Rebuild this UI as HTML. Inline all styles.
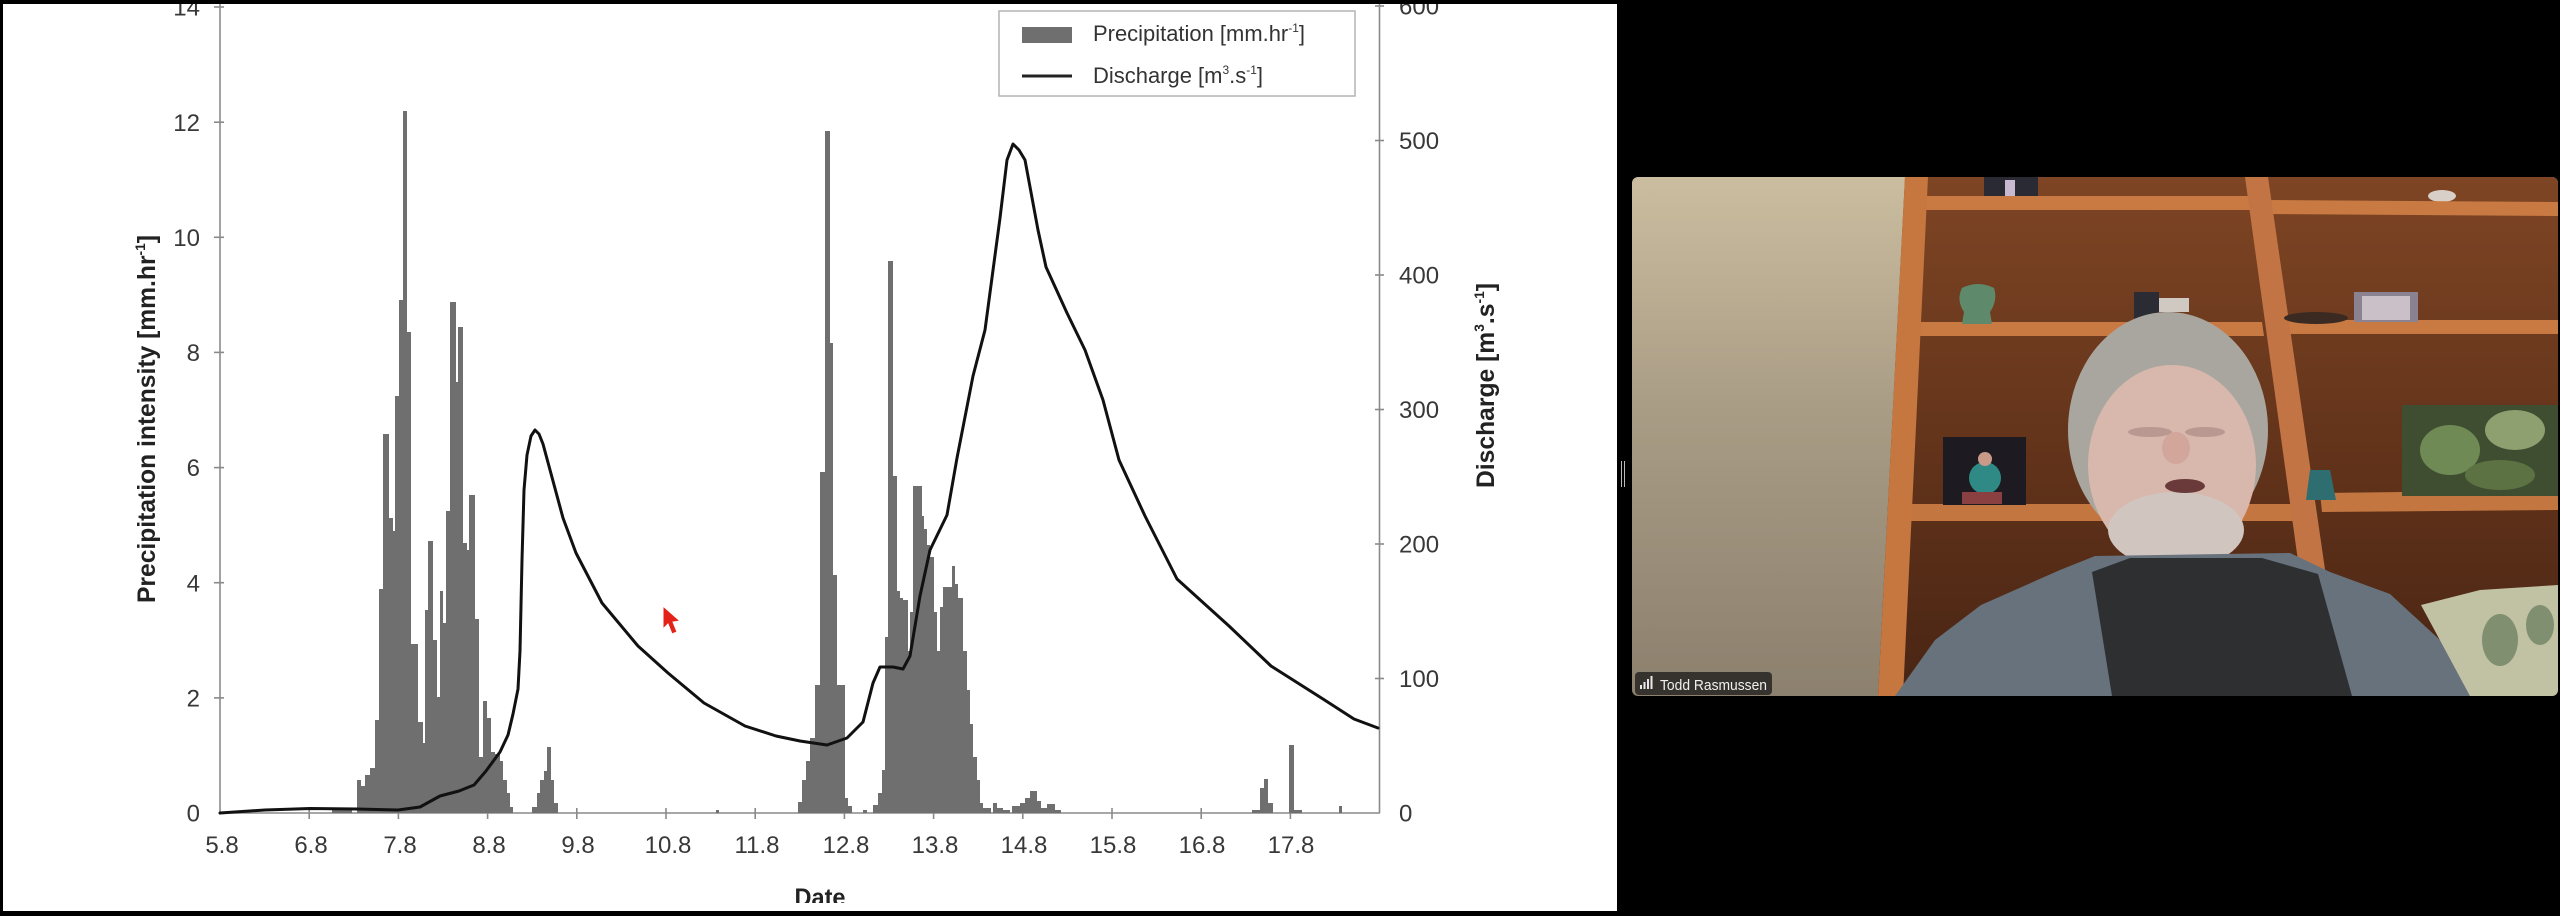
<!DOCTYPE html>
<html><head><meta charset="utf-8"><style>
html,body{margin:0;padding:0;background:#000;}
svg{display:block;}
</style></head><body>
<svg width="2560" height="916" viewBox="0 0 2560 916" xmlns="http://www.w3.org/2000/svg" font-family="'Liberation Sans', Arial, sans-serif">
<defs>
<clipPath id="vc"><rect x="1632" y="177" width="926" height="519" rx="6"/></clipPath>
<clipPath id="dateclip"><rect x="700" y="860" width="300" height="43"/></clipPath>
<linearGradient id="wall" x1="0" y1="0" x2="0" y2="1">
<stop offset="0" stop-color="#cbbd9f"/><stop offset="0.45" stop-color="#a99c85"/><stop offset="1" stop-color="#8c806e"/></linearGradient>
<linearGradient id="shelfin" x1="0" y1="0" x2="0" y2="1">
<stop offset="0" stop-color="#7e4524"/><stop offset="0.6" stop-color="#5f3119"/><stop offset="1" stop-color="#482514"/></linearGradient>
</defs>
<rect x="0" y="0" width="2560" height="916" fill="#000"/>
<rect x="3" y="4" width="1614" height="907" fill="#fff"/>

<!-- axes -->
<g stroke="#8a8a8a" stroke-width="1.6" fill="none">
<line x1="220" y1="4" x2="220" y2="813"/>
<line x1="220" y1="813" x2="1380" y2="813"/>
<line x1="1379.5" y1="4" x2="1379.5" y2="813"/>
<line x1="214" y1="697.9" x2="224" y2="697.9"/><line x1="214" y1="582.7" x2="224" y2="582.7"/>
<line x1="214" y1="467.6" x2="224" y2="467.6"/><line x1="214" y1="352.4" x2="224" y2="352.4"/>
<line x1="214" y1="237.3" x2="224" y2="237.3"/><line x1="214" y1="122.2" x2="224" y2="122.2"/>
<line x1="214" y1="7" x2="224" y2="7"/>
<line x1="1375" y1="678.5" x2="1384" y2="678.5"/><line x1="1375" y1="544" x2="1384" y2="544"/>
<line x1="1375" y1="409.5" x2="1384" y2="409.5"/><line x1="1375" y1="275" x2="1384" y2="275"/>
<line x1="1375" y1="140.5" x2="1384" y2="140.5"/><line x1="1375" y1="6" x2="1384" y2="6"/>
<line x1="309.2" y1="808" x2="309.2" y2="819"/><line x1="398.4" y1="808" x2="398.4" y2="819"/>
<line x1="487.6" y1="808" x2="487.6" y2="819"/><line x1="576.8" y1="808" x2="576.8" y2="819"/>
<line x1="666" y1="808" x2="666" y2="819"/><line x1="755.2" y1="808" x2="755.2" y2="819"/>
<line x1="844.4" y1="808" x2="844.4" y2="819"/><line x1="933.6" y1="808" x2="933.6" y2="819"/>
<line x1="1022.8" y1="808" x2="1022.8" y2="819"/><line x1="1112" y1="808" x2="1112" y2="819"/>
<line x1="1201.2" y1="808" x2="1201.2" y2="819"/><line x1="1290.4" y1="808" x2="1290.4" y2="819"/>
</g>

<!-- bars -->
<g fill="#6f6f6f" shape-rendering="crispEdges">
<rect x="332" y="810" width="20" height="3"/>
<rect x="357" y="780" width="4" height="33"/><rect x="361" y="786" width="4" height="27"/>
<rect x="365" y="775" width="5" height="38"/><rect x="370" y="768" width="5" height="45"/>
<rect x="375" y="720" width="4" height="93"/><rect x="379" y="589" width="4" height="224"/>
<rect x="383" y="434" width="6" height="379"/><rect x="389" y="518" width="4" height="295"/>
<rect x="393" y="531" width="2" height="282"/><rect x="395" y="396" width="4" height="417"/>
<rect x="399" y="300" width="4" height="513"/><rect x="403" y="111" width="4" height="702"/>
<rect x="407" y="332" width="4" height="481"/><rect x="411" y="644" width="7" height="169"/>
<rect x="418" y="722" width="5" height="91"/><rect x="423" y="743" width="2" height="70"/>
<rect x="425" y="610" width="3" height="203"/><rect x="428" y="541" width="5" height="272"/>
<rect x="433" y="640" width="4" height="173"/><rect x="437" y="697" width="3" height="116"/>
<rect x="440" y="591" width="3" height="222"/><rect x="443" y="623" width="3" height="190"/>
<rect x="446" y="511" width="4" height="302"/><rect x="450" y="302" width="6" height="511"/>
<rect x="456" y="382" width="2" height="431"/><rect x="458" y="327" width="5" height="486"/>
<rect x="463" y="543" width="4" height="270"/><rect x="467" y="550" width="2" height="263"/>
<rect x="469" y="495" width="6" height="318"/><rect x="475" y="619" width="4" height="194"/>
<rect x="479" y="757" width="4" height="56"/><rect x="483" y="701" width="4" height="112"/>
<rect x="487" y="718" width="4" height="95"/><rect x="491" y="752" width="4" height="61"/>
<rect x="495" y="754" width="5" height="59"/><rect x="500" y="761" width="3" height="52"/>
<rect x="503" y="780" width="4" height="33"/><rect x="507" y="793" width="3" height="20"/>
<rect x="510" y="807" width="3" height="6"/>
<rect x="532" y="807" width="5" height="6"/><rect x="537" y="793" width="3" height="20"/>
<rect x="540" y="780" width="4" height="33"/><rect x="544" y="771" width="3" height="42"/>
<rect x="547" y="747" width="4" height="66"/><rect x="551" y="780" width="3" height="33"/>
<rect x="554" y="803" width="4" height="10"/>
<rect x="716" y="810" width="3" height="3"/>
<rect x="798" y="802" width="4" height="11"/><rect x="802" y="780" width="4" height="33"/>
<rect x="806" y="761" width="4" height="52"/><rect x="810" y="738" width="5" height="75"/>
<rect x="815" y="685" width="5" height="128"/><rect x="820" y="472" width="5" height="341"/>
<rect x="825" y="131" width="5" height="682"/><rect x="830" y="343" width="3" height="470"/>
<rect x="833" y="575" width="4" height="238"/><rect x="837" y="685" width="8" height="128"/>
<rect x="845" y="798" width="3" height="15"/><rect x="848" y="806" width="4" height="7"/>
<rect x="863" y="810" width="4" height="3"/>
<rect x="873" y="805" width="5" height="8"/><rect x="878" y="793" width="4" height="20"/>
<rect x="882" y="770" width="3" height="43"/><rect x="885" y="637" width="3" height="176"/>
<rect x="888" y="261" width="5" height="552"/><rect x="893" y="476" width="4" height="337"/>
<rect x="897" y="591" width="3" height="222"/><rect x="900" y="598" width="3" height="215"/>
<rect x="903" y="600" width="5" height="213"/><rect x="908" y="651" width="2" height="162"/>
<rect x="910" y="612" width="3" height="201"/><rect x="913" y="486" width="9" height="327"/>
<rect x="922" y="516" width="2" height="297"/><rect x="924" y="529" width="3" height="284"/>
<rect x="927" y="545" width="3" height="268"/><rect x="930" y="557" width="4" height="256"/>
<rect x="934" y="612" width="3" height="201"/><rect x="937" y="651" width="3" height="162"/>
<rect x="940" y="607" width="3" height="206"/><rect x="943" y="587" width="9" height="226"/>
<rect x="952" y="566" width="3" height="247"/><rect x="955" y="584" width="3" height="229"/>
<rect x="958" y="598" width="5" height="215"/><rect x="963" y="651" width="4" height="162"/>
<rect x="967" y="690" width="3" height="123"/><rect x="970" y="724" width="3" height="89"/>
<rect x="973" y="757" width="4" height="56"/><rect x="977" y="780" width="3" height="33"/>
<rect x="980" y="803" width="3" height="10"/><rect x="983" y="808" width="8" height="5"/>
<rect x="993" y="803" width="4" height="10"/><rect x="997" y="808" width="6" height="5"/>
<rect x="1003" y="810" width="7" height="3"/><rect x="1012" y="806" width="8" height="7"/>
<rect x="1020" y="803" width="5" height="10"/><rect x="1025" y="798" width="5" height="15"/>
<rect x="1030" y="791" width="7" height="22"/><rect x="1037" y="801" width="4" height="12"/>
<rect x="1041" y="808" width="6" height="5"/><rect x="1047" y="804" width="8" height="9"/>
<rect x="1055" y="810" width="6" height="3"/>
<rect x="1252" y="810" width="8" height="3"/><rect x="1260" y="788" width="4" height="25"/>
<rect x="1264" y="779" width="4" height="34"/><rect x="1268" y="803" width="5" height="10"/>
<rect x="1289" y="745" width="5" height="68"/><rect x="1294" y="810" width="8" height="3"/>
<rect x="1339" y="806" width="3" height="7"/>
</g>

<!-- discharge line -->
<polyline fill="none" stroke="#111" stroke-width="3" stroke-linejoin="round" stroke-linecap="round"
points="220,813 265,810 310,808.5 357,809 398,810 420,807 440,796 459,791 474,785 486,771 500,752 508,735 513,714 518,689 520,651 522,560 524,490 527,455 531,436 535,430 539,434 543,444 553,481 563,518 576,553 602,603 638,646 668,673 704,703 745,726 776,736 800,741 827,745 847,738 863,722 873,683 880,667 893,667 903,669 910,656 920,596 930,550 947,515 957,458 973,376 985,330 1000,218 1007,160 1013,144 1019,150 1025,160 1038,230 1046,267 1067,313 1085,350 1103,400 1119,460 1145,516 1177,579 1229,626 1271,666 1323,699 1354,719 1378,728"/>

<!-- tick labels -->
<g font-size="24" fill="#383838">
<g text-anchor="end">
<text x="200" y="821.6">0</text><text x="200" y="706.5">2</text><text x="200" y="591.3">4</text>
<text x="200" y="476.2">6</text><text x="200" y="361">8</text><text x="200" y="245.9">10</text>
<text x="200" y="130.8">12</text><text x="200" y="15.6">14</text>
</g>
<g text-anchor="start">
<text x="1399" y="821.6">0</text><text x="1399" y="687.1">100</text><text x="1399" y="552.6">200</text>
<text x="1399" y="418.1">300</text><text x="1399" y="283.6">400</text><text x="1399" y="149.1">500</text>
<text x="1399" y="14.6">600</text>
</g>
<g text-anchor="middle">
<text x="222" y="853">5.8</text><text x="311" y="853">6.8</text><text x="400" y="853">7.8</text>
<text x="489" y="853">8.8</text><text x="578" y="853">9.8</text><text x="668" y="853">10.8</text>
<text x="757" y="853">11.8</text><text x="846" y="853">12.8</text><text x="935" y="853">13.8</text>
<text x="1024" y="853">14.8</text><text x="1113" y="853">15.8</text><text x="1202" y="853">16.8</text>
<text x="1291" y="853">17.8</text>
</g>
</g>

<!-- axis titles -->
<text transform="translate(155,419) rotate(-90)" text-anchor="middle" font-size="25" font-weight="bold" fill="#222" textLength="368" lengthAdjust="spacingAndGlyphs">Precipitation intensity [mm.hr<tspan font-size="14" dy="-10">-1</tspan><tspan dy="10">]</tspan></text>
<text transform="translate(1494,385.5) rotate(-90)" text-anchor="middle" font-size="25" font-weight="bold" fill="#222" textLength="205" lengthAdjust="spacingAndGlyphs">Discharge [m<tspan font-size="14" dy="-10">3</tspan><tspan dy="10">.s</tspan><tspan font-size="14" dy="-10">-1</tspan><tspan dy="10">]</tspan></text>
<text x="820" y="906" text-anchor="middle" font-size="25" font-weight="bold" fill="#222" clip-path="url(#dateclip)" textLength="51" lengthAdjust="spacingAndGlyphs">Date</text>

<!-- legend -->
<rect x="999" y="11" width="356" height="85" fill="#fff" stroke="#b4b4b4" stroke-width="1.5"/>
<rect x="1022" y="27" width="50" height="16" fill="#6f6f6f"/>
<line x1="1022" y1="76" x2="1072" y2="76" stroke="#222" stroke-width="3"/>
<text x="1093" y="41" font-size="22" fill="#333" textLength="212" lengthAdjust="spacingAndGlyphs">Precipitation [mm.hr<tspan font-size="12" dy="-9">-1</tspan><tspan dy="9">]</tspan></text>
<text x="1093" y="83" font-size="22" fill="#333" textLength="170" lengthAdjust="spacingAndGlyphs">Discharge [m<tspan font-size="12" dy="-9">3</tspan><tspan dy="9">.s</tspan><tspan font-size="12" dy="-9">-1</tspan><tspan dy="9">]</tspan></text>

<!-- cursor -->
<polygon points="663,606 663,629 668,624 672,634 677,632 673,622 680,621" fill="#e3231a" stroke="#fff" stroke-width="1"/>

<!-- top black strip -->
<rect x="0" y="0" width="1617" height="4" fill="#000"/>

<!-- divider handle -->
<line x1="1621.5" y1="461" x2="1621.5" y2="487" stroke="#bbb" stroke-width="1"/>
<line x1="1624.5" y1="461" x2="1624.5" y2="487" stroke="#bbb" stroke-width="1"/>

<!-- video -->
<g clip-path="url(#vc)">
<rect x="1632" y="177" width="926" height="519" fill="url(#wall)"/>
<polygon points="1905,177 2558,177 2558,696 1878,696" fill="url(#shelfin)"/>
<rect x="1984" y="177" width="54" height="21" fill="#2a2a35"/>
<rect x="2005" y="180" width="10" height="16" fill="#c8b8d0"/>
<ellipse cx="2442" cy="196" rx="14" ry="6" fill="#d8d0c8"/>
<polygon points="1925,196 2250,196 2252,210 1924,210" fill="#c97a42"/>
<polygon points="2265,200 2558,202 2558,216 2267,214" fill="#c97a42"/>
<polygon points="1915,322 2262,322 2264,336 1914,336" fill="#c97a42"/>
<polygon points="2282,320 2558,320 2558,334 2283,334" fill="#c97a42"/>
<polygon points="1898,504 2298,504 2300,521 1896,521" fill="#c47640"/>
<polygon points="2320,493 2558,490 2558,510 2322,512" fill="#c47640"/>
<polygon points="2245,177 2268,177 2328,590 2302,590" fill="#c27444"/>
<polygon points="1905,177 1928,177 1903,696 1878,696" fill="#c5773f"/>
<path d="M1962,288 Q1978,280 1994,288 Q1998,300 1990,312 L1992,324 L1962,324 L1964,312 Q1956,300 1962,288 Z" fill="#5e8a6b"/>
<rect x="2134" y="292" width="25" height="32" fill="#2b2b33"/>
<rect x="2159" y="298" width="30" height="14" fill="#cfc9c2"/>
<rect x="2354" y="292" width="64" height="30" fill="#8a8290"/>
<rect x="2362" y="296" width="48" height="24" fill="#c9c0c8"/>
<ellipse cx="2316" cy="318" rx="32" ry="6" fill="#3a2a22"/>
<rect x="1943" y="437" width="83" height="68" fill="#1e1a22"/>
<ellipse cx="1985" cy="478" rx="16" ry="16" fill="#2f8a85"/>
<circle cx="1985" cy="459" r="7" fill="#c99a88"/>
<rect x="1962" y="492" width="40" height="12" fill="#8a4040"/>
<path d="M2310,470 L2330,470 L2336,500 L2306,500 Z" fill="#2f6e70"/>
<rect x="2402" y="405" width="156" height="91" fill="#3f4e30"/>
<ellipse cx="2450" cy="450" rx="30" ry="25" fill="#6f8a55"/>
<ellipse cx="2515" cy="430" rx="30" ry="20" fill="#8ea070"/>
<ellipse cx="2500" cy="475" rx="35" ry="15" fill="#5c7242"/>
<ellipse cx="2168" cy="430" rx="100" ry="118" fill="#a9a69f"/>
<ellipse cx="2172" cy="465" rx="84" ry="100" fill="#d8b8ac"/>
<ellipse cx="2176" cy="530" rx="68" ry="38" fill="#d0c5bf"/>
<ellipse cx="2150" cy="432" rx="22" ry="5" fill="#b89890"/>
<ellipse cx="2205" cy="432" rx="20" ry="5" fill="#b89890"/>
<ellipse cx="2176" cy="448" rx="14" ry="16" fill="#d2a69a"/>
<ellipse cx="2185" cy="486" rx="20" ry="7" fill="#6a3a3a"/>
<polygon points="1895,696 1935,640 1981,605 2060,570 2095,556 2290,553 2330,572 2390,594 2440,640 2504,696" fill="#67727d"/>
<polygon points="2092,572 2130,558 2262,558 2318,574 2352,696 2112,696" fill="#2e2f31"/>
<polygon points="2421,605 2480,590 2558,585 2558,696 2470,696" fill="#c1c2a4"/>
<ellipse cx="2500" cy="640" rx="18" ry="26" fill="#7f8f70"/>
<ellipse cx="2540" cy="625" rx="14" ry="20" fill="#7f8f70"/>
<rect x="1635" y="672" width="137" height="23" rx="4" fill="#2a2826" fill-opacity="0.88"/>
<g fill="#e8e8e8">
<rect x="1640" y="685" width="2" height="4"/><rect x="1643.5" y="682" width="2" height="7"/>
<rect x="1647" y="679" width="2" height="10"/><rect x="1650.5" y="676" width="2" height="13"/>
</g>
<text x="1660" y="690" font-size="15" fill="#f0f0f0" textLength="107" lengthAdjust="spacingAndGlyphs">Todd Rasmussen</text>
</g>
</svg>
</body></html>
